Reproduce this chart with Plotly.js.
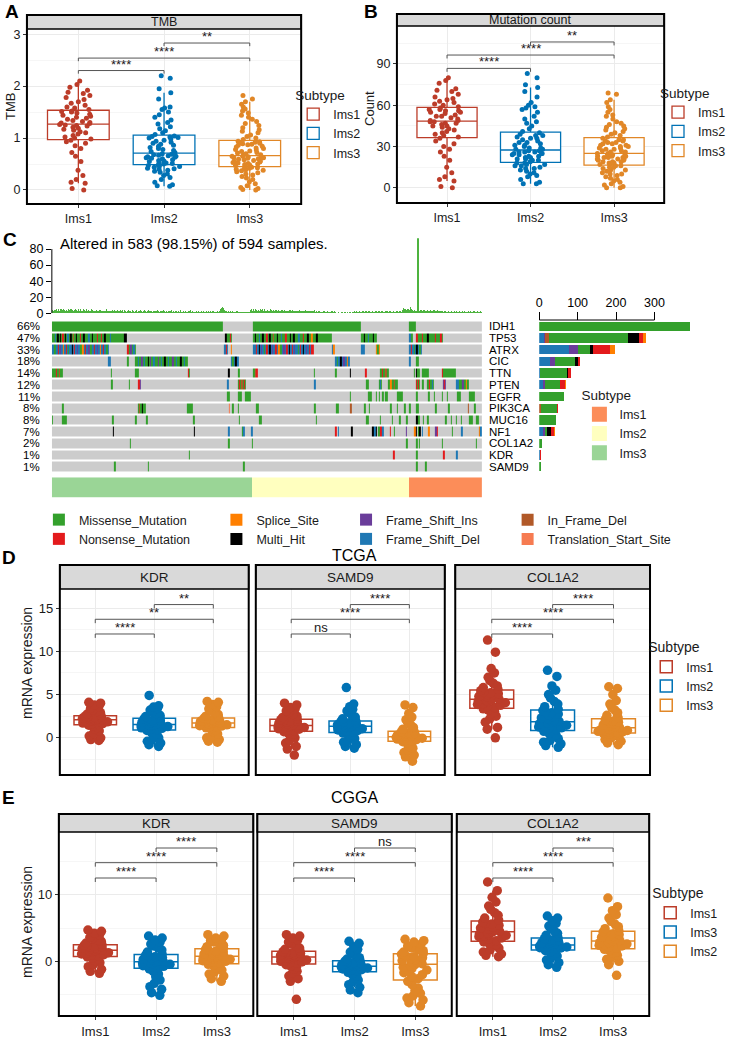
<!DOCTYPE html>
<html>
<head>
<meta charset="utf-8">
<script src="https://cdn.plot.ly/plotly-3.0.1.min.js"></script>
<style>html,body{margin:0;padding:0;background:#fff}</style>
</head>
<body>
<div id="fig" style="width:731px;height:1042px"></div>
<script>
// ---------- data ----------
const groups = ['Ims1', 'Ims2', 'Ims3'];
const subtypeColors = ['#BC3C29', '#0072B5', '#E18727'];
const cggaLegendNames = ['Ims1', 'Ims3', 'Ims2'];   // legend labels as printed in panel E

const num = s => s.trim().split(/\s+/).map(Number);

// panel A - TMB
const tmbIms1 = num('0 0.03 0.13 0.15 0.2 0.28 0.38 0.55 0.65 0.72 0.8 0.85 0.9 0.93 0.96 0.98 1.0 1.02 1.05 1.08 1.1 1.12 1.15 1.17 1.19 1.21 1.23 1.24 1.25 1.26 1.28 1.29 1.3 1.32 1.34 1.36 1.38 1.4 1.42 1.44 1.46 1.48 1.5 1.51 1.52 1.55 1.58 1.6 1.63 1.67 1.7 1.74 1.78 1.82 1.86 1.88 1.92 1.98 2.03 2.1');
const tmbIms2 = num('0.07 0.08 0.1 0.15 0.2 0.24 0.28 0.31 0.34 0.36 0.38 0.4 0.41 0.42 0.44 0.45 0.46 0.47 0.48 0.5 0.51 0.52 0.53 0.55 0.56 0.57 0.58 0.6 0.61 0.62 0.63 0.64 0.65 0.66 0.67 0.68 0.69 0.7 0.72 0.74 0.76 0.78 0.8 0.82 0.84 0.86 0.88 0.9 0.92 0.94 0.96 0.98 1.0 1.01 1.02 1.03 1.04 1.07 1.1 1.14 1.18 1.22 1.27 1.3 1.35 1.4 1.45 1.5 1.55 1.58 1.6 1.75 1.87 1.95 2.15 2.2');
const tmbIms3 = num('0 0.01 0.03 0.05 0.08 0.12 0.16 0.2 0.23 0.26 0.29 0.31 0.33 0.35 0.37 0.38 0.39 0.4 0.41 0.42 0.43 0.44 0.46 0.47 0.48 0.49 0.5 0.51 0.52 0.53 0.54 0.55 0.56 0.57 0.58 0.59 0.6 0.61 0.62 0.62 0.63 0.64 0.65 0.65 0.67 0.68 0.7 0.71 0.72 0.74 0.75 0.77 0.78 0.8 0.81 0.83 0.84 0.86 0.87 0.88 0.89 0.9 0.91 0.92 0.93 0.94 0.97 1.0 1.03 1.06 1.1 1.13 1.16 1.2 1.24 1.28 1.32 1.36 1.4 1.44 1.48 1.52 1.56 1.6 1.65 1.7 1.75 1.82');

// panel B - mutation count
const cntIms1 = num('0 1 5 6 8 11 15 20 23 26 28 30 32 34 36 37 38 39 40 41 42 43 44 45 45 46 47 47 48 48 49 49 50 51 52 52 53 54 55 55 56 56 57 57 58 59 60 61 62 63 64 65 66 68 70 71 72 76 78 80');
const cntIms2 = num('3 3 4 6 8 9 10 11 12 13 14 14 15 16 16 17 17 18 18 19 20 20 21 21 22 22 23 23 24 24 25 25 25 26 26 26 27 27 28 28 29 29 30 31 31 32 33 33 34 35 36 36 37 38 38 39 40 41 43 45 47 48 50 52 55 57 58 59 60 62 66 70 73 75 80 83');
const cntIms3 = num('0 0 1 2 3 4 5 6 7 8 9 10 10 11 12 13 13 14 15 15 16 16 17 17 18 18 19 19 19 20 20 21 21 21 22 22 22 23 23 23 24 24 24 25 25 26 26 27 27 28 28 29 29 30 30 31 31 32 32 33 33 34 34 35 35 36 37 38 39 40 41 42 43 44 45 46 47 48 50 52 53 55 57 59 62 64 68 69');

// panel D - TCGA mRNA expression (Ims1, Ims2, Ims3)
const tcgaKDR = [
  '-0.3 -0.2 0 0.2 0.5 0.8 1.0 1.2 1.35 1.45 1.55 1.6 1.65 1.7 1.8 1.85 1.9 1.95 2.0 2.05 2.1 2.15 2.2 2.25 2.3 2.35 2.4 2.42 2.45 2.5 2.6 2.75 2.9 3.05 3.2 3.4 3.6 3.8 4.0 4.1',
  '-1 -0.8 -0.6 -0.4 -0.2 0 0.2 0.45 0.65 0.85 0.95 1.0 1.1 1.15 1.2 1.3 1.35 1.4 1.45 1.5 1.55 1.6 1.7 1.8 1.85 1.9 2.0 2.05 2.1 2.2 2.3 2.45 2.6 2.8 3.0 3.2 3.4 3.55 3.7 4.9',
  '-0.5 -0.4 -0.2 0 0.2 0.45 0.7 0.9 1.05 1.15 1.25 1.3 1.35 1.4 1.45 1.5 1.55 1.6 1.65 1.7 1.75 1.8 1.85 1.9 1.95 2.0 2.05 2.1 2.15 2.25 2.35 2.5 2.7 2.9 3.1 3.35 3.6 3.85 4.1 4.2'
].map(num);
const tcgaSAMD9 = [
  '-2 -1.3 -1.0 -0.6 -0.3 0 0.2 0.4 0.55 0.7 0.8 0.9 1.0 1.05 1.1 1.2 1.25 1.3 1.35 1.4 1.45 1.5 1.6 1.7 1.75 1.8 1.9 1.95 2.0 2.1 2.2 2.35 2.5 2.7 2.9 3.1 3.3 3.5 3.8 4.0',
  '-1.2 -1.0 -0.8 -0.5 -0.3 -0.1 0.1 0.3 0.45 0.55 0.65 0.75 0.85 0.9 1.0 1.05 1.1 1.2 1.25 1.3 1.35 1.4 1.45 1.5 1.6 1.65 1.7 1.75 1.8 1.9 2.0 2.2 2.4 2.6 2.9 3.1 3.3 3.6 3.9 5.8',
  '-2.7 -2.2 -2.0 -1.7 -1.4 -1.2 -1.0 -0.8 -0.6 -0.45 -0.35 -0.3 -0.2 -0.15 -0.1 -0.05 0 0.05 0.08 0.1 0.15 0.2 0.25 0.3 0.4 0.45 0.5 0.55 0.6 0.7 0.8 1.0 1.2 1.5 1.8 2.1 2.4 2.8 3.5 3.8'
].map(num);
const tcgaCOL1A2 = [
  '0 1.0 1.2 1.8 2.2 2.5 2.8 3.0 3.2 3.35 3.5 3.6 3.75 3.85 3.95 4.05 4.15 4.25 4.3 4.4 4.5 4.6 4.7 4.8 4.9 5.0 5.1 5.2 5.3 5.45 5.6 5.8 6.0 6.3 6.6 7.0 7.5 8.0 9.9 11.3',
  '-1.1 -0.9 -0.7 -0.5 -0.3 -0.1 0.1 0.35 0.55 0.75 0.95 1.05 1.15 1.25 1.35 1.45 1.55 1.6 1.7 1.8 1.9 2.0 2.15 2.3 2.45 2.6 2.75 2.9 3.0 3.15 3.3 3.6 3.9 4.2 4.6 5.0 5.5 6.0 7.1 7.8',
  '-0.8 -0.6 -0.4 -0.2 0 0.1 0.2 0.3 0.4 0.5 0.6 0.65 0.7 0.75 0.8 0.85 0.9 0.95 1.0 1.1 1.2 1.3 1.4 1.5 1.6 1.7 1.8 1.9 2.0 2.1 2.3 2.6 2.9 3.2 3.5 3.9 4.3 5.0 5.7 5.9'
].map(num);

// panel E - CGGA mRNA expression (positions Ims1, Ims2, Ims3)
const cggaKDR = [
  '-1.8 -1.5 -1.2 -0.8 -0.5 -0.2 0.1 0.35 0.5 0.65 0.8 0.9 1.0 1.1 1.2 1.3 1.4 1.45 1.5 1.6 1.7 1.8 1.9 1.95 2.0 2.1 2.2 2.25 2.3 2.4 2.55 2.75 3.0 3.2 3.4 3.6 3.9 4.2 4.5 4.7',
  '-5.1 -4.7 -4.2 -3.8 -3.3 -2.8 -2.3 -1.9 -1.5 -1.15 -0.95 -0.85 -0.75 -0.65 -0.55 -0.45 -0.35 -0.25 -0.2 -0.1 0 0.1 0.2 0.3 0.4 0.5 0.6 0.7 0.8 0.95 1.1 1.4 1.7 2.0 2.3 2.6 2.9 3.2 3.5 3.8',
  '-3.0 -2.6 -2.2 -1.9 -1.6 -1.3 -1.0 -0.8 -0.6 -0.45 -0.3 -0.15 0 0.1 0.2 0.3 0.4 0.5 0.6 0.7 0.8 0.9 1.0 1.1 1.2 1.3 1.4 1.5 1.65 1.8 2.0 2.2 2.4 2.6 2.9 3.1 3.3 3.5 3.8 4.0'
].map(num);
const cggaSAMD9 = [
  '-5.7 -3.0 -2.6 -2.2 -1.8 -1.5 -1.2 -0.9 -0.7 -0.5 -0.3 -0.2 -0.1 0 0.1 0.2 0.3 0.4 0.5 0.6 0.7 0.8 0.85 0.9 1.0 1.1 1.2 1.3 1.35 1.45 1.6 1.8 2.0 2.3 2.6 2.9 3.2 3.5 3.8 4.0',
  '-4.7 -4.3 -3.9 -3.5 -3.1 -2.8 -2.5 -2.2 -1.9 -1.65 -1.45 -1.35 -1.25 -1.15 -1.05 -1.0 -0.95 -0.9 -0.8 -0.75 -0.7 -0.6 -0.55 -0.5 -0.4 -0.35 -0.3 -0.2 -0.1 0 0.15 0.35 0.55 0.8 1.1 1.4 1.8 2.2 2.7 3.0',
  '-6.7 -6.2 -5.8 -5.5 -5.2 -4.8 -4.4 -4.0 -3.5 -3.0 -2.6 -2.3 -2.0 -1.7 -1.5 -1.3 -1.1 -0.9 -0.7 -0.5 -0.35 -0.2 -0.05 0.1 0.25 0.4 0.55 0.7 0.85 1.05 1.2 1.4 1.6 1.8 2.0 2.3 2.6 2.9 3.1 3.3'
].map(num);
const cggaCOL1A2 = [
  '0.7 0.9 1.1 1.4 1.7 2.0 2.3 2.5 2.7 2.9 3.1 3.3 3.5 3.7 3.8 3.9 4.0 4.1 4.25 4.4 4.5 4.7 4.8 5.0 5.1 5.3 5.4 5.6 5.7 5.9 6.2 6.5 6.9 7.3 7.8 8.3 8.9 9.6 10.6 11.9',
  '-0.9 -0.5 -0.2 0.2 0.5 0.8 1.0 1.2 1.4 1.6 1.8 1.9 2.0 2.05 2.1 2.15 2.2 2.3 2.35 2.4 2.5 2.6 2.7 2.8 2.9 3.0 3.1 3.2 3.3 3.4 3.6 3.9 4.2 4.5 4.9 5.3 5.7 6.1 6.5 6.8',
  '-2.1 -0.5 0 0.3 0.6 0.9 1.2 1.4 1.6 1.8 2.0 2.1 2.3 2.4 2.5 2.6 2.7 2.8 2.9 3.0 3.1 3.3 3.4 3.6 3.7 3.8 4.0 4.1 4.3 4.4 4.6 4.9 5.2 5.6 6.0 6.5 7.0 7.6 8.2 9.5'
].map(num);

// panel C - oncoplot
const nSamples = 594;
const genes = ['IDH1', 'TP53', 'ATRX', 'CIC', 'TTN', 'PTEN', 'EGFR', 'PIK3CA', 'MUC16', 'NF1', 'COL1A2', 'KDR', 'SAMD9'];
const genePct = ['66%', '47%', '33%', '18%', '14%', '12%', '11%', '8%', '8%', '7%', '2%', '1%', '1%'];
const oncoSubtypes = ['Ims3', 'Ims2', 'Ims1'];          // left to right
const oncoSubtypeCounts = [277, 216, 101];
const oncoSubtypeColors = ['#9AD596', '#FFFFBF', '#FC8D59'];
const mutTypes = ['Missense_Mutation', 'Nonsense_Mutation', 'Splice_Site', 'Multi_Hit',
                  'Frame_Shift_Ins', 'Frame_Shift_Del', 'In_Frame_Del', 'Translation_Start_Site'];
const mutCodes = ['M', 'N', 'S', 'H', 'I', 'D', 'F', 'T'];
const mutColors = ['#33A02C', '#E31A1C', '#FF7F00', '#000000', '#6A3D9A', '#1F78B4', '#B15928', '#F67B51'];

// per gene: [first sample, last sample, variant code]; later entries overwrite earlier ones
const geneMuts = [
  [[0,235,'M'],[278,425,'M'],[493,502,'M']],
  [[0,102,'M'],[4,5,'D'],[7,8,'H'],[11,12,'H'],[14,15,'N'],[18,19,'H'],[21,22,'D'],[25,26,'H'],[29,30,'F'],[33,34,'H'],[38,39,'N'],[43,44,'H'],[50,51,'D'],[55,56,'H'],[62,63,'N'],[67,68,'N'],[72,73,'H'],[80,81,'D'],[100,102,'H'],
   [239,247,'M'],[239,241,'H'],[245,246,'N'],
   [278,386,'M'],[280,281,'H'],[285,286,'D'],[290,291,'H'],[296,297,'N'],[300,301,'H'],[305,306,'F'],[310,311,'H'],[316,317,'D'],[322,323,'N'],[328,329,'H'],[333,334,'H'],[340,341,'D'],[346,347,'N'],[352,353,'H'],[358,359,'S'],[365,366,'H'],
   [427,447,'M'],[430,431,'H'],[436,437,'D'],[443,444,'H'],
   [493,497,'M'],[493,494,'D'],
   [502,538,'M'],[503,504,'N'],[510,511,'N'],[518,519,'H'],[528,529,'N'],[536,537,'N']],
  [[0,78,'D'],[3,4,'M'],[8,9,'N'],[11,12,'I'],[15,16,'S'],[19,20,'N'],[22,23,'M'],[27,28,'H'],[30,31,'N'],[34,35,'I'],[39,40,'M'],[42,43,'S'],[45,46,'N'],[50,51,'I'],[53,54,'M'],[58,59,'N'],[62,63,'I'],[66,67,'S'],[70,71,'N'],[75,76,'M'],
   [103,115,'M'],[104,105,'N'],[108,109,'I'],[112,113,'D'],
   [238,242,'D'],[240,241,'N'],[247,248,'S'],
   [278,360,'D'],[281,282,'N'],[285,286,'H'],[288,289,'I'],[292,293,'M'],[296,297,'N'],[300,301,'H'],[303,304,'I'],[308,309,'N'],[312,313,'S'],[315,316,'M'],[319,320,'I'],[323,324,'N'],[327,328,'H'],[331,332,'N'],[334,335,'I'],[339,340,'M'],[342,343,'N'],[346,347,'H'],[350,351,'I'],[354,355,'N'],[358,360,'N'],
   [386,390,'D'],[388,389,'S'],[427,431,'D'],[447,451,'S'],[449,450,'M'],
   [493,510,'D'],[495,496,'N'],[499,500,'M'],[503,504,'H'],[507,508,'M']],
  [[77,80,'D'],[103,105,'M'],[115,187,'M'],[118,119,'D'],[123,124,'I'],[127,128,'D'],[132,133,'H'],[135,136,'I'],[140,141,'D'],[146,147,'I'],[150,151,'D'],[155,156,'H'],[160,161,'D'],[166,167,'I'],[171,172,'D'],[177,178,'H'],[182,183,'D'],
   [247,257,'D'],[249,250,'M'],[253,254,'H'],[390,410,'D'],[393,394,'M'],[398,399,'H'],[402,403,'I'],[407,408,'S'],[493,494,'D'],[503,505,'M']],
  [[0,14,'M'],[5,6,'N'],[9,10,'F'],[81,82,'M'],[115,119,'M'],[187,188,'N'],[189,190,'M'],[243,244,'H'],[257,258,'M'],[278,282,'M'],[280,281,'F'],[282,283,'N'],[361,362,'M'],[391,392,'M'],[411,412,'H'],[432,434,'N'],[452,464,'M'],[455,456,'N'],[460,461,'F'],[499,500,'M'],[502,503,'H'],[504,507,'M'],[510,519,'M'],[538,539,'N'],[540,557,'M']],
  [[82,83,'M'],[106,107,'M'],[119,120,'N'],[121,122,'I'],[242,243,'D'],[257,267,'M'],[258,259,'N'],[261,262,'F'],[265,266,'N'],[362,363,'D'],[434,437,'M'],[451,455,'M'],[452,453,'D'],[464,476,'M'],[467,468,'S'],[472,473,'F'],[502,507,'M'],[502,503,'N'],[505,506,'N'],[510,513,'M'],[518,526,'M'],[520,521,'N'],[524,525,'D'],[539,543,'I'],[541,542,'N'],[557,574,'M'],[558,560,'D'],[566,567,'I'],[571,572,'S']],
  [[242,245,'M'],[256,261,'M'],[267,274,'M'],[411,412,'M'],[436,441,'M'],[447,448,'M'],[451,452,'M'],[455,457,'M'],[460,462,'M'],[476,484,'M'],[503,504,'M'],[519,520,'M'],[527,528,'M'],[538,539,'M'],[545,546,'M'],[559,564,'M'],[575,583,'M']],
  [[14,15,'M'],[119,129,'M'],[120,121,'F'],[124,125,'H'],[186,194,'M'],[244,245,'T'],[249,250,'M'],[256,257,'M'],[282,285,'M'],[362,363,'M'],[392,395,'M'],[411,413,'F'],[431,432,'M'],[437,438,'M'],[467,468,'M'],[476,477,'M'],[486,487,'M'],[493,494,'M'],[503,506,'M'],[529,530,'M'],[547,548,'M'],[574,575,'F'],[583,584,'M']],
  [[0,1,'M'],[14,20,'M'],[83,84,'M'],[115,116,'M'],[130,131,'M'],[195,196,'M'],[258,259,'M'],[286,289,'M'],[364,365,'M'],[434,437,'M'],[452,453,'M'],[469,470,'M'],[479,480,'M'],[489,490,'M'],[503,504,'H'],[505,507,'M'],[512,513,'M'],[518,519,'M'],[543,544,'M'],[550,551,'M'],[557,558,'M'],[564,565,'M'],[575,580,'M'],[585,588,'M']],
  [[84,85,'H'],[196,197,'H'],[243,244,'D'],[262,263,'M'],[264,265,'D'],[275,276,'D'],[391,392,'N'],[394,395,'D'],[413,414,'H'],[442,443,'H'],[445,446,'D'],[447,448,'H'],[450,451,'M'],[453,454,'N'],[456,457,'D'],[466,467,'N'],[472,473,'M'],[488,489,'I'],[500,501,'S'],[502,503,'H'],[505,506,'M'],[507,508,'H'],[510,511,'D'],[519,520,'S'],[529,530,'I'],[531,532,'N'],[552,553,'M'],[565,566,'D'],[589,590,'S'],[591,593,'D']],
  [[107,108,'M'],[243,244,'M'],[276,277,'M'],[489,490,'M'],[503,504,'M'],[506,507,'M'],[538,539,'M'],[585,586,'M']],
  [[189,190,'M'],[471,472,'N'],[503,504,'M'],[540,541,'N'],[558,559,'D']],
  [[86,87,'M'],[132,133,'M'],[264,265,'M'],[503,504,'M'],[515,516,'M']]
];

// mutations per sample (top bar), one digit per sample, plus the one hyper-mutated sample
const burdenTxt = [
  '4534545345354543543443534535433453435435343534353',
  '3434353433434353434334334353433343433434343334334',
  '2343323433323433234323324332343323343233243323342',
  '3232332432332323324233232323324232332323233242332',
  '2323223232322323232232322323223232235678654323232',
  '2322323223232232232223222322245345345435435345435',
  '3434343534343343434333434334334334343343343343343',
  '3334333433333343333423323332322323232323223232232',
  '1212121212121212212121232312323232323232323232323',
  '2323232323232323232332323232323232323232324565454',
  '5454845453434343434343434343434343434343334334334',
  '3232323232323232322323232323223232232232223232323',
  '2323232323'
];
const burdenPeakSample = 505, burdenPeakValue = 94;

// mutations per gene, by variant class (right bar chart)
const cntFrameShiftDel = [0, 13, 78, 29, 2, 9, 0, 0, 0, 11, 0, 2, 0];
const cntFrameShiftIns = [0, 3, 24, 11, 0, 5, 0, 0, 0, 3, 0, 0, 0];
const cntInFrameDel    = [0, 10, 0, 0, 0, 0, 0, 4, 0, 0, 0, 0, 0];
const cntMissense      = [392, 205, 30, 54, 70, 39, 64, 42, 44, 6, 8, 0, 5];
const cntMultiHit      = [0, 29, 9, 7, 4, 0, 0, 0, 0, 11, 0, 0, 0];
const cntNonsense      = [0, 10, 44, 4, 7, 13, 0, 2, 0, 8, 0, 3, 0];
const cntSplice        = [0, 7, 12, 2, 0, 3, 0, 0, 0, 3, 0, 0, 0];
const cntTranslStart   = [0, 0, 0, 0, 0, 0, 0, 0, 0, 0, 0, 0, 0];

// ---------- helpers ----------
const W = 731, H = 1042;
const px = v => v / W;
const py = v => 1 - v / H;
const FONT = 'Liberation Sans, Arial, sans-serif';
const NARROW = 'Liberation Sans Narrow, Arial Narrow, Liberation Sans, sans-serif';
const axKey = id => (id[0] === 'x' ? 'xaxis' : 'yaxis') + id.slice(1);

const traces = [];
const layout = {
    width: W, height: H, autosize: false,
    margin: { l: 0, r: 0, t: 0, b: 0 },
    paper_bgcolor: 'white', plot_bgcolor: 'white',
    font: { family: FONT, size: 12, color: '#1a1a1a' },
    barmode: 'stack', boxmode: 'overlay',
    showlegend: true, hovermode: false,
    shapes: [], annotations: []
};

function note(text, x, y, opts) {
    layout.annotations.push(Object.assign({
        text: text, x: x, y: y, xref: 'paper', yref: 'paper',
        showarrow: false, xanchor: 'center', yanchor: 'middle'
    }, opts || {}));
}

// one faceted box plot panel (strip on top, black frame, significance brackets)
function addBoxPanel(p) {
    layout[axKey(p.x)] = {
        domain: [px(p.left), px(p.right)], anchor: p.y, range: [-0.6, 2.6],
        tickmode: 'array', tickvals: [0, 1, 2], ticktext: groups,
        showticklabels: p.xLabels, ticks: p.xLabels ? 'outside' : '', ticklen: 3, tickcolor: '#333',
        tickfont: { family: p.font, size: p.tickSize, color: '#1a1a1a' },
        showgrid: true, gridcolor: '#EBEBEB', zeroline: false, showline: false
    };
    layout[axKey(p.y)] = {
        domain: [py(p.bottom), py(p.top)], anchor: p.x, range: p.yrange,
        tickmode: 'linear', tick0: 0, dtick: p.dtick,
        minor: { dtick: p.dtick / 2, showgrid: true, gridcolor: '#F4F4F4', gridwidth: 0.8 },
        showticklabels: p.yLabels, ticks: p.yLabels ? 'outside' : '', ticklen: 3, tickcolor: '#333',
        tickfont: { family: p.font, size: p.tickSize, color: '#1a1a1a' },
        showgrid: true, gridcolor: '#EBEBEB', zeroline: false, showline: false
    };
    if (p.ytitle) {
        note(p.ytitle, px(p.ytitleX), py(p.ytitleY),
             { textangle: -90, font: { family: p.font, size: p.titleSize, color: '#1a1a1a' } });
    }

    p.values.forEach((vals, i) => {
        const t = {
            type: 'box', y: vals, x0: i, xaxis: p.x, yaxis: p.y,
            name: p.names[i], width: 0.72,
            boxpoints: 'all', jitter: p.jitter, pointpos: 0, whiskerwidth: 0,
            fillcolor: 'white', line: { color: subtypeColors[i], width: p.boxLine },
            marker: { color: subtypeColors[i], size: p.msize, opacity: 1 },
            showlegend: p.showlegend, legend: p.legend
        };
        if (p.groupLegend) t.legendgroup = p.legend + '_' + i;
        traces.push(t);
    });

    // strip + frame
    layout.shapes.push({
        type: 'rect', xref: 'paper', yref: 'paper',
        x0: px(p.left), x1: px(p.right), y0: py(p.top), y1: py(p.stripTop),
        fillcolor: '#D9D9D9', line: { color: '#000', width: 1.5 }, layer: 'above'
    });
    layout.shapes.push({
        type: 'rect', xref: 'paper', yref: 'paper',
        x0: px(p.left), x1: px(p.right), y0: py(p.bottom), y1: py(p.stripTop),
        fillcolor: 'rgba(0,0,0,0)', line: { color: '#000', width: 2 }, layer: 'above'
    });
    note(p.strip, px((p.left + p.right) / 2), py((p.stripTop + p.top) / 2),
         { font: { family: p.font, size: p.stripSize, color: '#1a1a1a' } });

    // significance brackets
    [[0, 1], [0, 2], [1, 2]].forEach((pair, k) => {
        const y = p.sigY[k], t = p.sigTip;
        layout.shapes.push({
            type: 'path', xref: p.x, yref: p.y,
            path: `M${pair[0]},${y - t} L${pair[0]},${y} L${pair[1]},${y} L${pair[1]},${y - t}`,
            line: { color: '#555', width: 1 }
        });
        layout.annotations.push({
            text: p.sig[k], x: (pair[0] + pair[1]) / 2, y: y, xref: p.x, yref: p.y,
            showarrow: false, yanchor: 'bottom', yshift: -3,
            font: { family: p.font, size: 13, color: '#1a1a1a' }
        });
    });
}

function legendBox(x, y, font, titleSize, gap) {
    return {
        x: px(x), y: py(y), xanchor: 'left', yanchor: 'top', traceorder: 'normal',
        bgcolor: 'rgba(0,0,0,0)', borderwidth: 0, tracegroupgap: gap,
        font: { family: font, size: 12.5, color: '#1a1a1a' },
        title: { text: 'Subtype', font: { family: font, size: titleSize, color: '#1a1a1a' } }
    };
}

// ---------- panel A / B ----------
addBoxPanel({
    x: 'x', y: 'y', left: 27, right: 302, stripTop: 15, top: 29, bottom: 204,
    yrange: [-0.27, 3.1], dtick: 1, values: [tmbIms1, tmbIms2, tmbIms3], names: groups,
    legend: 'legend', showlegend: true, msize: 5, jitter: 0.65, boxLine: 1.3,
    strip: 'TMB', xLabels: true, yLabels: true, ytitle: 'TMB', ytitleX: 10, ytitleY: 106,
    font: FONT, tickSize: 12.5, stripSize: 12.5, titleSize: 13,
    sig: ['****', '****', '**'], sigY: [2.3, 2.54, 2.83], sigTip: 0.06
});
addBoxPanel({
    x: 'x2', y: 'y2', left: 398, right: 666, stripTop: 14, top: 26, bottom: 203,
    yrange: [-11, 117.6], dtick: 30, values: [cntIms1, cntIms2, cntIms3], names: groups,
    legend: 'legend2', showlegend: true, msize: 5, jitter: 0.65, boxLine: 1.3,
    strip: 'Mutation count', xLabels: true, yLabels: true, ytitle: 'Count', ytitleX: 371, ytitleY: 108,
    font: FONT, tickSize: 12.5, stripSize: 12.5, titleSize: 13,
    sig: ['****', '****', '**'], sigY: [86.8, 96.5, 106], sigTip: 2.5
});
layout.legend = legendBox(294, 82, FONT, 13.5, 0);
layout.legend2 = legendBox(660, 80, FONT, 13.5, 0);

// ---------- panel C ----------
const ONCO_L = 52, ONCO_R = 483.6;
const sampleIdx = Array.from({ length: nSamples }, (_, i) => i);

// top bar: mutations per sample
const burden = burdenTxt.join('').slice(0, nSamples).split('').map(Number);
burden[burdenPeakSample] = burdenPeakValue;
traces.push({
    type: 'bar', x: sampleIdx, y: burden, xaxis: 'x3', yaxis: 'y3',
    width: sampleIdx.map(i => (i === burdenPeakSample ? 2.2 : 1)),
    marker: { color: '#4DB33F', line: { width: 0 } }, showlegend: false
});
layout.xaxis3 = { domain: [px(ONCO_L), px(ONCO_R)], anchor: 'y3', range: [-0.5, nSamples - 0.5],
                  visible: false };
layout.yaxis3 = { domain: [py(313.3), py(238.3)], anchor: 'x3', range: [0, 93.4],
                  tickvals: [0, 20, 40, 60, 80], ticks: 'outside', ticklen: 5, tickcolor: '#000',
                  tickfont: { size: 12.5, color: '#000' }, showgrid: false, zeroline: false, showline: false };
layout.shapes.push({ type: 'line', xref: 'paper', yref: 'y3', x0: px(ONCO_L), x1: px(ONCO_L), y0: 0, y1: 80,
                     line: { color: '#000', width: 1 } });

// oncoplot matrix
const codeIndex = {};
mutCodes.forEach((c, i) => { codeIndex[c] = i + 1; });
const oncoZ = genes.map((g, gi) => {
    const row = new Array(nSamples).fill(0);
    geneMuts[gi].forEach(([a, b, c]) => { for (let s = a; s <= b; s++) row[s] = codeIndex[c]; });
    return row;
});
const oncoPalette = ['#CCCCCC'].concat(mutColors);
const oncoScale = [];
oncoPalette.forEach((c, k) => {
    oncoScale.push([k / oncoPalette.length, c], [(k + 1) / oncoPalette.length, c]);
});
traces.push({
    type: 'heatmap', z: oncoZ, x: sampleIdx, y: genes.map((g, i) => i), xaxis: 'x4', yaxis: 'y4',
    zmin: -0.5, zmax: oncoPalette.length - 0.5, colorscale: oncoScale, showscale: false, ygap: 2
});
layout.xaxis4 = { domain: [px(ONCO_L), px(ONCO_R)], anchor: 'y4', range: [-0.5, nSamples - 0.5], visible: false };
layout.yaxis4 = { domain: [py(472.5), py(320.5)], anchor: 'x4', range: [12.5, -0.5], visible: false };

genes.forEach((g, i) => {
    layout.annotations.push({ text: genePct[i], x: px(41), y: i, xref: 'paper', yref: 'y4', showarrow: false,
                              xanchor: 'right', yanchor: 'middle', borderpad: 0,
                              font: { size: 11.5, color: '#000' } });
    layout.annotations.push({ text: g, x: px(489), y: i, xref: 'paper', yref: 'y4', showarrow: false,
                              xanchor: 'left', yanchor: 'middle', borderpad: 0,
                              font: { size: 11.5, color: '#000' } });
});

// subtype annotation bar
const subtypeRow = [];
oncoSubtypeCounts.forEach((n, k) => { for (let i = 0; i < n; i++) subtypeRow.push(k); });
traces.push({
    type: 'heatmap', z: [subtypeRow], x: sampleIdx, y: [0], xaxis: 'x5', yaxis: 'y5',
    zmin: -0.5, zmax: 2.5, showscale: false,
    colorscale: [[0, oncoSubtypeColors[0]], [1 / 3, oncoSubtypeColors[0]], [1 / 3, oncoSubtypeColors[1]],
                 [2 / 3, oncoSubtypeColors[1]], [2 / 3, oncoSubtypeColors[2]], [1, oncoSubtypeColors[2]]]
});
layout.xaxis5 = { domain: [px(ONCO_L), px(ONCO_R)], anchor: 'y5', range: [-0.5, nSamples - 0.5], visible: false };
layout.yaxis5 = { domain: [py(497.7), py(477.3)], anchor: 'x5', range: [-0.5, 0.5], visible: false };

// gene bar chart (stacked by variant class)
const geneBarStack = [
    ['Frame_Shift_Del', cntFrameShiftDel, 'legend8', 2],
    ['Frame_Shift_Ins', cntFrameShiftIns, 'legend8', 1],
    ['In_Frame_Del', cntInFrameDel, 'legend9', 1],
    ['Missense_Mutation', cntMissense, 'legend6', 1],
    ['Multi_Hit', cntMultiHit, 'legend7', 2],
    ['Nonsense_Mutation', cntNonsense, 'legend6', 2],
    ['Splice_Site', cntSplice, 'legend7', 1],
    ['Translation_Start_Site', cntTranslStart, 'legend9', 2]
];
geneBarStack.forEach(([name, vals, leg, rank]) => {
    traces.push({
        type: 'bar', orientation: 'h', name: name, x: vals, y: genes, xaxis: 'x6', yaxis: 'y6', width: 0.8,
        marker: { color: mutColors[mutTypes.indexOf(name)], line: { width: 0 } },
        legend: leg, legendrank: rank, legendgroup: 'mt_' + name
    });
});
const BAR0 = 540.7, BAR_PX_PER_UNIT = 0.385;
layout.xaxis6 = { domain: [px(BAR0), px(725)], anchor: 'y6', side: 'top',
                  range: [0, (725 - BAR0) / BAR_PX_PER_UNIT],
                  tickvals: [0, 100, 200, 300], ticks: 'outside', ticklen: 8, tickcolor: '#000',
                  tickfont: { size: 12.5, color: '#000' }, showgrid: false, zeroline: false, showline: false };
layout.yaxis6 = { domain: [py(472.5), py(320.5)], anchor: 'x6', type: 'category',
                  categoryorder: 'array', categoryarray: genes, range: [12.5, -0.5], visible: false };
layout.shapes.push({ type: 'line', xref: 'x6', yref: 'paper', x0: 0, x1: 300, y0: py(320), y1: py(320),
                     line: { color: '#000', width: 1 } });

// subtype legend of the oncoplot
['Ims1', 'Ims2', 'Ims3'].forEach(s => {
    traces.push({
        type: 'scatter', mode: 'markers', x: [-1000], y: ['IDH1'], xaxis: 'x6', yaxis: 'y6', name: s,
        marker: { symbol: 'square', size: 15, color: oncoSubtypeColors[oncoSubtypes.indexOf(s)] },
        legend: 'legend3'
    });
});
layout.legend3 = legendBox(581, 382, FONT, 13.5, 0);

// variant class legend: four columns of two
[['legend6', 39], ['legend7', 217], ['legend8', 347], ['legend9', 509]].forEach(([id, x]) => {
    layout[id] = {
        x: px(x), y: py(505), xanchor: 'left', yanchor: 'top', bgcolor: 'rgba(0,0,0,0)',
        traceorder: 'normal', tracegroupgap: 3, font: { family: FONT, size: 12.5, color: '#1a1a1a' }
    };
});

note('Altered in 583 (98.15%) of 594 samples.', px(58), py(243),
     { xanchor: 'left', font: { size: 15, color: '#000' } });

// ---------- panel D / E ----------
const dFacets = [[60, 249.4], [256.5, 446], [456.5, 651.8]];
const eFacets = [[59, 254], [258, 453], [458, 651]];
const tcga = [['KDR', tcgaKDR, ['****', '**', '**']],
              ['SAMD9', tcgaSAMD9, ['ns', '****', '****']],
              ['COL1A2', tcgaCOL1A2, ['****', '****', '****']]];
const cgga = [['KDR', cggaKDR, ['****', '****', '****']],
              ['SAMD9', cggaSAMD9, ['****', '****', 'ns']],
              ['COL1A2', cggaCOL1A2, ['****', '****', '***']]];

tcga.forEach(([gene, vals, sig], i) => {
    addBoxPanel({
        x: 'x' + (7 + i), y: 'y' + (7 + i), left: dFacets[i][0], right: dFacets[i][1],
        stripTop: 565, top: 589, bottom: 775, yrange: [-4.3, 17.2], dtick: 5,
        values: vals, names: groups, legend: 'legend4', showlegend: i === 0, groupLegend: true,
        msize: 9.5, jitter: 0.72, boxLine: 1.5, strip: gene, xLabels: false, yLabels: i === 0,
        ytitle: i === 0 ? 'mRNA expression' : null, ytitleX: 27, ytitleY: 663,
        font: NARROW, tickSize: 13, stripSize: 13.5, titleSize: 14,
        sig: sig, sigY: [12.0, 13.7, 15.4], sigTip: 0.45
    });
});
cgga.forEach(([gene, vals, sig], i) => {
    addBoxPanel({
        x: 'x' + (10 + i), y: 'y' + (10 + i), left: eFacets[i][0], right: eFacets[i][1],
        stripTop: 814, top: 832, bottom: 1016, yrange: [-8.2, 19.4], dtick: 10,
        values: vals, names: cggaLegendNames, legend: 'legend5', showlegend: i === 0, groupLegend: true,
        msize: 9.5, jitter: 0.72, boxLine: 1.5, strip: gene, xLabels: true, yLabels: i === 0,
        ytitle: i === 0 ? 'mRNA expression' : null, ytitleX: 27, ytitleY: 922,
        font: NARROW, tickSize: 13, stripSize: 13.5, titleSize: 14,
        sig: sig, sigY: [12.5, 14.8, 17.0], sigTip: 0.6
    });
});
layout.legend4 = legendBox(648, 634, NARROW, 14, 4);
layout.legend5 = legendBox(652, 880, NARROW, 14, 4);

note('TCGA', px(355), py(555), { font: { family: NARROW, size: 16, color: '#000' } });
note('CGGA', px(355), py(797), { font: { family: NARROW, size: 16, color: '#000' } });

// panel letters
[['A', 12, 12], ['B', 372, 12], ['C', 10, 239], ['D', 9, 557], ['E', 9, 797]].forEach(([t, x, y]) => {
    note('<b>' + t + '</b>', px(x), py(y), { font: { family: FONT, size: 19, color: '#000' } });
});

Plotly.newPlot('fig', traces, layout, { staticPlot: true });
</script>
</body>
</html>
